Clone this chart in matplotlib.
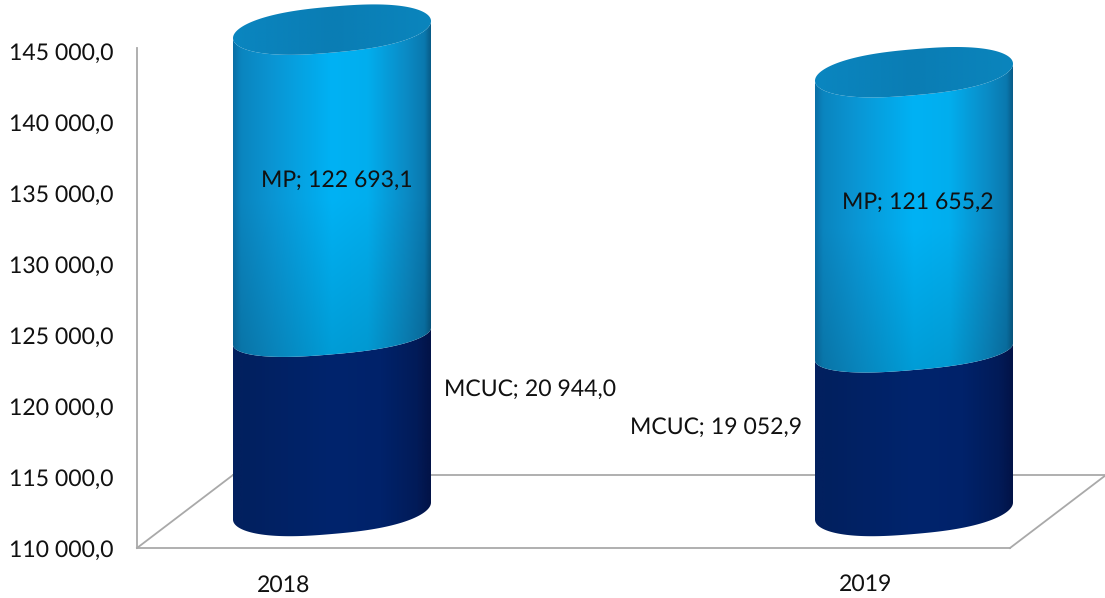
import numpy as np
import matplotlib
matplotlib.use("Agg")
import matplotlib.pyplot as plt
from matplotlib.patches import Polygon
from matplotlib.colors import to_rgb
from matplotlib.transforms import Affine2D

plt.rcParams['font.family'] = ['Lato', 'DejaVu Sans']
plt.rcParams['text.hinting'] = 'no_hinting'
plt.rcParams['text.hinting_factor'] = 1

# ---- data ----
years = ['2018', '2019']
mcuc_values = [20944.0, 19052.9]           # printed labels
mp_values = [122693.1, 121655.2]           # printed labels
axis_base = 110000
mcuc_top_on_axis = [122300, 121200]
total_top_on_axis = [143900, 140900]
y_ticks = [110000, 115000, 120000, 125000, 130000, 135000, 140000, 145000]


def fmt(v):
    return f"{v:,.1f}".replace(",", " ").replace(".", ",")


W, H = 1105, 598
fig = plt.figure(figsize=(W / 100, H / 100), dpi=100, facecolor='white')
L, R, B, T = 137, 1010, 548, 48
ax = fig.add_axes([L / W, 1 - B / H, (R - L) / W, (B - T) / H])
px_per_cat = 582.0
x0_px = 284.0
px_per_unit = 71.0 / 5000
xlim = ((L - x0_px) / px_per_cat, (R - x0_px) / px_per_cat)
ylim = (axis_base, axis_base + (B - T) / px_per_unit)
ax.set_xlim(*xlim)
ax.set_ylim(*ylim)

GREY = '#a9a9a9'
depth_dx, depth_dy = 96, 73
back = ax.transData + Affine2D().translate(depth_dx, depth_dy)
mid = ax.transData + Affine2D().translate(depth_dx / 2, depth_dy / 2 + 0.5)

# floor
ax.plot(xlim, [axis_base] * 2, transform=back, color=GREY, lw=1.3, clip_on=False, zorder=1)
for xv in xlim:
    p0 = ax.transData.transform((xv, axis_base))
    p1 = back.transform((xv, axis_base))
    ax.plot([p0[0], p1[0]], [p0[1], p1[1]], transform=None, color=GREY, lw=1.3,
            clip_on=False, zorder=1)

half_w = 99 / px_per_cat
tilt = 8.5
blunt = 0.8
t = np.linspace(0, 2 * np.pi, 360)


def ramp(stops, n=256):
    xs = np.linspace(0, 1, n)
    pos = [s[0] for s in stops]
    rgb = np.array([to_rgb(s[1]) for s in stops])
    return np.stack([np.interp(xs, pos, rgb[:, i]) for i in range(3)], axis=1)


light = ramp([(0, '#0a6fa6'), (.04, '#0b85bf'), (.2, '#0a95d3'), (.5, '#00b2f4'),
              (.68, '#02aeee'), (.88, '#0b8ac4'), (.97, '#0a78ae'), (1, '#085c88')])
dark = ramp([(0, '#03205f'), (.05, '#02205f'), (.5, '#00246d'), (.75, '#00226a'),
             (.93, '#021b58'), (1, '#021347')])
cap = ramp([(0, '#0a86c0'), (.5, '#0a7db4'), (1, '#0a85bd')])


def ring(xc, val, b, tt):
    c = np.cos(tt)
    ux = np.sign(c) * np.abs(c) ** blunt
    return xc + half_w * ux, val + (b * np.sin(tt) + tilt * ux) / px_per_unit


def shaded(poly_xy, colors, extent, fade=1.0):
    poly = Polygon(poly_xy, closed=True, transform=mid, facecolor='none', edgecolor='none',
                   clip_on=False)
    ax.add_patch(poly)
    img = colors[np.newaxis, :, :]
    if fade != 1.0:
        f = np.r_[np.ones(64), np.linspace(1, fade, 64)][:, None, None]
        img = np.clip(img * f, 0, 1)
    im = ax.imshow(img, extent=extent, transform=mid, aspect='auto', origin='upper',
                   interpolation='bilinear', zorder=3)
    im.set_clip_path(poly)
    im.set_clip_box(fig.bbox)


def side(xc, v_low, b_low, v_high, b_high, colors, fade=1.0):
    front = t[t >= np.pi]
    lx, ly = ring(xc, v_low, b_low, front)
    hx, hy = ring(xc, v_high, b_high, front[::-1])
    xy = np.column_stack([np.r_[lx, hx], np.r_[ly, hy]])
    shaded(xy, colors, (xc - half_w, xc + half_w, v_low - 3000, v_high + 1000), fade)


for i in range(len(years)):
    v0, v1, v2 = axis_base, mcuc_top_on_axis[i], total_top_on_axis[i]
    side(i, v0, 23, v1, 18, dark)
    side(i, v1, 18, v2, 23, light, fade=0.86)
    ex, ey = ring(i, v2, 23, t)
    shaded(np.column_stack([ex, ey]), cap, (i - half_w, i + half_w, v2 - 2500, v2 + 2500))

ax.set_xlim(*xlim)
ax.set_ylim(*ylim)
ax.set_xticks(range(len(years)), years)
ax.set_yticks(y_ticks, [fmt(v) for v in y_ticks])
ax.tick_params(axis='y', length=0, pad=17, labelsize=16.3, labelcolor='#111111')
ax.tick_params(axis='x', length=0, pad=19, labelsize=16.8, labelcolor='#111111')
for s in ('top', 'right'):
    ax.spines[s].set_visible(False)
for s in ('left', 'bottom'):
    ax.spines[s].set_color(GREY)
    ax.spines[s].set_linewidth(1.3)
ax.patch.set_visible(False)

labels = [
    (f"MP; {fmt(mp_values[0])}", 337, 180),
    (f"MCUC; {fmt(mcuc_values[0])}", 530, 389),
    (f"MCUC; {fmt(mcuc_values[1])}", 716, 427),
    (f"MP; {fmt(mp_values[1])}", 918, 202),
]
for s, x, y in labels:
    ax.annotate(s, xy=(x, H - y), xycoords='figure pixels', ha='center', va='center',
                fontsize=16.6, color='#111111', zorder=6, annotation_clip=False)

fig.savefig('out.png', dpi=100, facecolor='white')
